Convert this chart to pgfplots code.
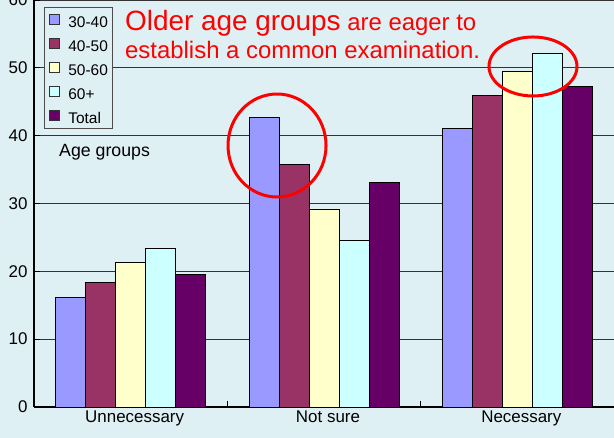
\documentclass[border=0pt]{standalone}
\usepackage{pgfplots}
\pgfplotsset{compat=1.18}
\usepackage{fontspec}
\setmainfont{Liberation Sans}
\definecolor{bg}{RGB}{223,240,245}
\definecolor{cA}{HTML}{9999FF}
\definecolor{cB}{HTML}{993366}
\definecolor{cC}{HTML}{FFFFCC}
\definecolor{cD}{HTML}{CCFFFF}
\definecolor{cE}{HTML}{660066}
\begin{document}
\begin{tikzpicture}
\fill[bg] (-34bp,-31bp) rectangle (580bp,407bp);
\begin{axis}[
  at={(0,0)}, anchor=south west,
  scale only axis, width=580bp, height=407bp,
  xmin=-0.5, xmax=2.5, ymin=0, ymax=60,
  axis x line*=bottom, axis y line*=left,
  axis line style={line width=1.2bp, black},
  ybar, bar width=30bp,
  ytick={0,10,...,60},
  ymajorgrids, major grid style={black!80, line width=0.8bp},
  xtick={0.5,1.5}, xticklabels={},
  tick align=inside, major tick length=6bp,
  tick style={black, line width=0.8bp},
  extra x ticks={0,1,2},
  extra x tick labels={Unnecessary,Not sure,Necessary},
  extra x tick style={tick style={draw=none}, xticklabel style={xshift=4bp}},
  /pgf/number format/assume math mode=true,
  tick label style={font=\fontsize{17}{17}\selectfont},
  yticklabel style={anchor=east, xshift=-3bp},
  legend style={at={(axis description cs:0.0172,0.983)}, anchor=north west,
    fill=bg, draw=black!70, line width=0.8bp,
    font=\fontsize{15.5}{15.5}\selectfont, cells={anchor=west},
    nodes={text height=15bp, text depth=0bp, inner ysep=3bp}, row sep=3bp},
  legend image code/.code={\path[draw=none, fill=none, use as bounding box] (-2bp,-5bp) rectangle (17bp,5bp); \draw[#1, draw=black!80, line width=0.8bp] (0bp,-5bp) rectangle (10bp,5bp);},
]
\addplot[fill=cA, draw=black, line width=0.8bp, bar shift=-60bp] coordinates {(0,16.1) (1,42.7) (2,41.1)};
\addplot[fill=cB, draw=black, line width=0.8bp, bar shift=-30bp] coordinates {(0,18.4) (1,35.8) (2,45.9)};
\addplot[fill=cC, draw=black, line width=0.8bp, bar shift=0bp] coordinates {(0,21.3) (1,29.2) (2,49.5)};
\addplot[fill=cD, draw=black, line width=0.8bp, bar shift=30bp] coordinates {(0,23.4) (1,24.6) (2,52.1)};
\addplot[fill=cE, draw=black, line width=0.8bp, bar shift=60bp] coordinates {(0,19.6) (1,33.1) (2,47.3)};
\legend{30-40,40-50,50-60,60+,Total}
\draw[red, line width=3bp] (axis cs:0.757,38.55) ellipse [x radius=49bp, y radius=51.5bp];
\draw[red, line width=3bp] (axis cs:2.081,50.2) ellipse [x radius=44bp, y radius=29.5bp];
\end{axis}
\node[anchor=base west, inner sep=0, text=red] at (91bp,376bp) {{\fontsize{28}{28}\selectfont Older age groups}{\fontsize{24}{24}\selectfont\ are eager to}};
\node[anchor=base west, inner sep=0, text=red, font=\fontsize{24}{24}\selectfont] at (91bp,348bp) {establish a common examination.};
\node[anchor=base west, inner sep=0, font=\fontsize{17.8}{17.8}\selectfont] at (25bp,250bp) {Age groups};
\pgfresetboundingbox
\path (-34bp,-31bp) rectangle (580bp,407bp);
\end{tikzpicture}
\end{document}
